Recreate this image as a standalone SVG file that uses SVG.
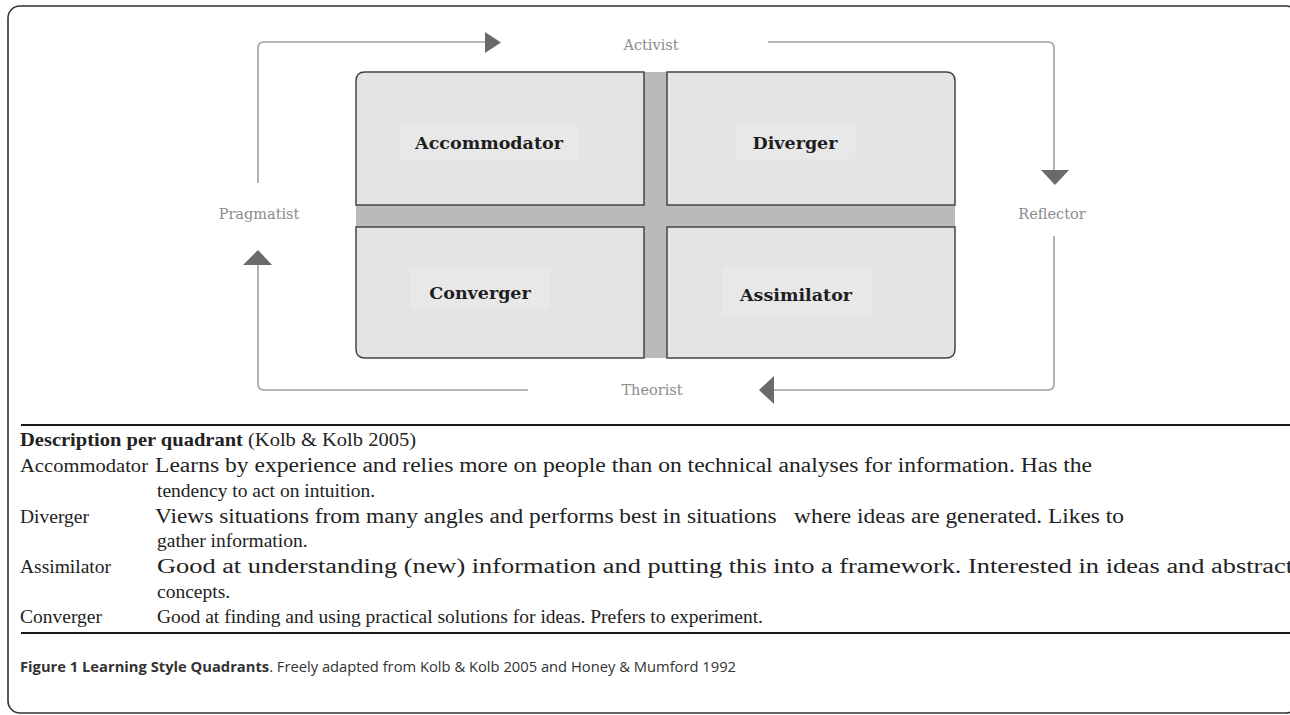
<svg xmlns="http://www.w3.org/2000/svg" width="1290" height="715" viewBox="0 0 1290 715">
<style>
.frame{fill:none;stroke:#333;stroke-width:1.6}
.quad{fill:#e4e4e4;stroke:#444;stroke-width:1.5}
.bar{fill:#bababa}
.qlabel{font-family:"DejaVu Serif",serif;font-weight:bold;font-size:17.5px;fill:#1e1e1e;text-anchor:middle}
.lblbg{fill:#e8e8e8}
.side{font-family:"DejaVu Serif",serif;font-size:14.5px;fill:#8c8c8c;text-anchor:middle}
.conn{fill:none;stroke:#a0a0a0;stroke-width:1.6}
.head{fill:#6a6a6a}
.body{font-family:"Liberation Serif",serif;font-size:19.5px;fill:#222}
.long{font-size:20.5px}
.rule{stroke:#1a1a1a;stroke-width:2.2}
.cap{font-family:"Open Sans",sans-serif;font-size:14.5px;fill:#333}
</style>
<rect class="frame" x="8" y="6" width="1290" height="707" rx="12"/>

<g id="quadrants">
  <rect class="bar" x="356" y="72" width="599" height="286" rx="9"/>
  <g id="accommodator">
    <path class="quad" d="M365,72 H644 V205 H356 V81 Q356,72 365,72 Z"/>
    <rect class="lblbg" x="400" y="125" width="178" height="34"/>
    <text class="qlabel" x="489" y="149">Accommodator</text>
  </g>
  <g id="diverger">
    <path class="quad" d="M667,72 H946 Q955,72 955,81 V205 H667 Z"/>
    <rect class="lblbg" x="735" y="125" width="120" height="34"/>
    <text class="qlabel" x="795" y="149">Diverger</text>
  </g>
  <g id="converger">
    <path class="quad" d="M356,227 H644 V358 H365 Q356,358 356,349 Z"/>
    <rect class="lblbg" x="410" y="270" width="140" height="40"/>
    <text class="qlabel" x="480" y="299">Converger</text>
  </g>
  <g id="assimilator">
    <path class="quad" d="M667,227 H955 V349 Q955,358 946,358 H667 Z"/>
    <rect class="lblbg" x="722" y="266" width="150" height="50"/>
    <text class="qlabel" x="796" y="301">Assimilator</text>
  </g>
</g>

<g id="connectors">
  <path class="conn" d="M258,183 V48 Q258,42 264,42 H487"/>
  <polygon class="head" points="485,32 501,42.5 485,53"/>
  <path class="conn" d="M768,42 H1048 Q1054,42 1054,48 V172"/>
  <polygon class="head" points="1041,170 1069,170 1055,185"/>
  <path class="conn" d="M1054,236 V384 Q1054,390 1048,390 H772"/>
  <polygon class="head" points="774,376 759,390 774,404"/>
  <path class="conn" d="M528,390 H264 Q258,390 258,384 V264"/>
  <polygon class="head" points="243,265 258,250 272,265"/>
</g>

<g id="side-labels">
  <text class="side" x="651" y="50">Activist</text>
  <text class="side" x="1052" y="219">Reflector</text>
  <text class="side" x="652" y="395">Theorist</text>
  <text class="side" x="259" y="219">Pragmatist</text>
</g>

<g id="description">
  <line class="rule" x1="21" y1="425" x2="1290" y2="425"/>
  <text class="body" x="20" y="446" textLength="396" lengthAdjust="spacingAndGlyphs"><tspan font-weight="bold">Description per quadrant</tspan> (Kolb &amp; Kolb 2005)</text>
  <text class="body" x="20" y="472" textLength="128" lengthAdjust="spacingAndGlyphs">Accommodator</text>
  <text class="body long" x="155" y="472" textLength="937" lengthAdjust="spacingAndGlyphs">Learns by experience and relies more on people than on technical analyses for information. Has the</text>
  <text class="body" x="157" y="497">tendency to act on intuition.</text>
  <text class="body" x="20" y="523">Diverger</text>
  <text class="body long" x="155" y="523" xml:space="preserve" textLength="969" lengthAdjust="spacingAndGlyphs">Views situations from many angles and performs best in situations   where ideas are generated. Likes to</text>
  <text class="body" x="157" y="547">gather information.</text>
  <text class="body" x="20" y="573">Assimilator</text>
  <text class="body long" x="157" y="573" textLength="1136" lengthAdjust="spacingAndGlyphs">Good at understanding (new) information and putting this into a framework. Interested in ideas and abstract</text>
  <text class="body" x="157" y="598">concepts.</text>
  <text class="body" x="20" y="623">Converger</text>
  <text class="body" x="157" y="623">Good at finding and using practical solutions for ideas. Prefers to experiment.</text>
  <line class="rule" x1="21" y1="633" x2="1290" y2="633"/>
</g>

<g id="caption">
  <text class="cap" x="20" y="672" textLength="716" lengthAdjust="spacingAndGlyphs"><tspan font-weight="bold">Figure 1 Learning Style Quadrants</tspan>. Freely adapted from Kolb &amp; Kolb 2005 and Honey &amp; Mumford 1992</text>
</g>
</svg>
